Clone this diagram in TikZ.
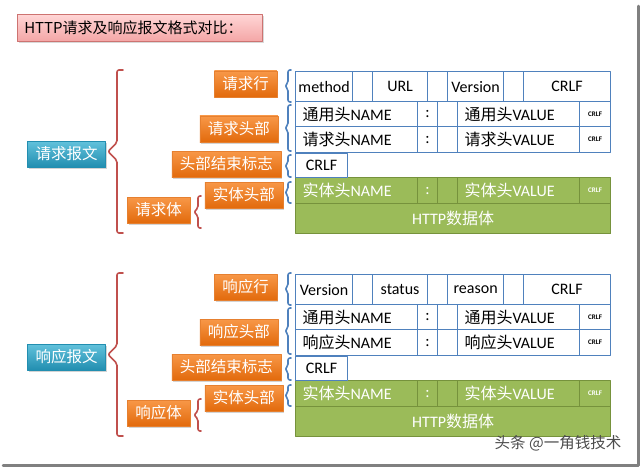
\documentclass[tikz,border=0pt]{standalone}
\usepackage{fontspec}
\setmainfont{Carlito}
\newfontfamily\cjk{Noto Sans CJK SC}
\newcommand\zh[1]{{\cjk #1}}
\usetikzlibrary{shadows}
\definecolor{tblue}{RGB}{79,129,189}
\definecolor{tred}{RGB}{192,80,77}
\definecolor{tgreen}{RGB}{155,187,89}
\definecolor{tgreenline}{RGB}{118,146,60}
\definecolor{torange}{RGB}{248,152,72}
\definecolor{torangedark}{RGB}{226,106,12}
\definecolor{taqua}{RGB}{98,194,220}
\definecolor{taquadark}{RGB}{34,142,176}
\definecolor{tpink}{RGB}{255,214,214}
\definecolor{tpinkdark}{RGB}{244,166,166}
\newcommand\bracket[6]{\draw[#1, line width=1.6pt, rounded corners=2pt] ({#2+#6},#3) -- (#2,#3) -- (#2,{(#3+#4)/2-#5}) -- ({#2-#5},{(#3+#4)/2}) -- (#2,{(#3+#4)/2+#5}) -- (#2,#4) -- ({#2+#6},#4);}
\tikzset{
  box/.style={inner xsep=8pt, minimum height=26pt, text=white, font=\cjk\fontsize{15.5}{16}\selectfont, drop shadow={shadow xshift=1.5pt, shadow yshift=-1.5pt, opacity=.35}},
  obox/.style={box, top color=torange, bottom color=torangedark, draw=torangedark!85!white, line width=.4pt},
  abox/.style={box, top color=taqua, bottom color=taquadark, draw=taquadark, line width=.4pt},
  titlebox/.style={anchor=north west, text width=231pt, align=left, inner xsep=7pt, minimum height=27pt, top color=tpink, bottom color=tpinkdark, draw=tred!80, line width=.6pt, font=\cjk\fontsize{15}{15}\selectfont, drop shadow={shadow xshift=1.5pt, shadow yshift=-1.5pt, opacity=.3}},
  cell/.style={draw=tblue, line width=1.2pt, fill=white, anchor=north west, inner sep=0pt, font=\fontsize{16}{16}\selectfont},
  lcell/.style={text width=#1, align=left, inner xsep=7pt},
  tinytext/.style={font=\bfseries\fontsize{7}{8}\selectfont}
}
\begin{document}
\begin{tikzpicture}[x=1pt, y=-1pt, line join=round, line cap=round]
\useasboundingbox (0,0) rectangle (642,468);
\node[titlebox] (title) at (17,14) {HTTP请求及响应报文格式对比：};
\foreach \s/\dy/\Msg/\Row/\Head/\Body/\Fa/\Fb/\Fc/\Own in {q/0/请求报文/请求行/请求头部/请求体/method/URL/Version/请求头, p/203/响应报文/响应行/响应头部/响应体/Version/status/reason/响应头}{
  \begin{scope}[shift={(0,\dy)}]
    \node[abox] (\s-msg) at (66.5,154) {\Msg};
    \node[obox, anchor=east] (\s-row) at (277,84) {\Row};
    \node[obox, anchor=east] (\s-head) at (278,129) {\Head};
    \node[obox, anchor=east] (\s-stop) at (281,164) {头部结束标志};
    \node[obox, anchor=east] (\s-ent) at (283,195) {实体头部};
    \node[obox] (\s-body) at (158.5,210) {\Body};
    \bracket{tred}{117}{70}{233}{9}{6}
    \bracket{tred}{198}{196}{228}{4}{3}
    \bracket{tblue}{288}{70}{102}{3}{3}
    \bracket{tblue}{288}{105}{151}{3}{3}
    \bracket{tblue}{288}{155}{177}{3}{3}
    \bracket{tblue}{288}{182}{203}{3}{3}
    \foreach \xa/\xb/\t in {295/352/\Fa, 352/372/{}, 372/427/\Fb, 427/447/{}, 447/503/\Fc, 503/523/{}, 523/610/CRLF}
      \node[cell, minimum width={\xb-\xa}, minimum height=30] (\s-r1-\xa) at (\xa,71) {\t};
    \foreach \r/\y/\h/\pre/\bc/\fc/\tc in {2/101/25/通用头/tblue/white/black, 3/126/26/\Own/tblue/white/black, 5/177/26/实体头/tgreenline/tgreen/white}{
      \node[cell, draw=\bc, fill=\fc, text=\tc, lcell=108pt, minimum height=\h] (\s-r\r-n) at (295,\y) {\zh{\pre}NAME};
      \node[cell, draw=\bc, fill=\fc, text=\tc, minimum width=20, minimum height=\h] (\s-r\r-c) at (417,\y) {:};
      \node[cell, draw=\bc, fill=\fc, text=\tc, minimum width=20, minimum height=\h] (\s-r\r-e) at (437,\y) {};
      \node[cell, draw=\bc, fill=\fc, text=\tc, lcell=108pt, minimum height=\h] (\s-r\r-v) at (457,\y) {\zh{\pre}VALUE};
      \node[cell, draw=\bc, fill=\fc, text=\tc, tinytext, minimum width=31, minimum height=\h] (\s-r\r-f) at (579,\y) {CRLF};
    }
    \node[cell, minimum width=52, minimum height=24] (\s-r4) at (295,153) {CRLF};
    \node[cell, draw=tgreenline, fill=tgreen, text=white, minimum width=315, minimum height=30] (\s-r6) at (295,203) {HTTP\zh{数据体}};
  \end{scope}
}
\node[font=\cjk\fontsize{15.5}{16}\selectfont, text=black!70] (mark) at (558,443) {头条 @一角钱技术};
\draw[line width=2.5pt, black!50] (3,465.5) -- (638.5,465.5) -- (638.5,6);
\end{tikzpicture}
\end{document}
